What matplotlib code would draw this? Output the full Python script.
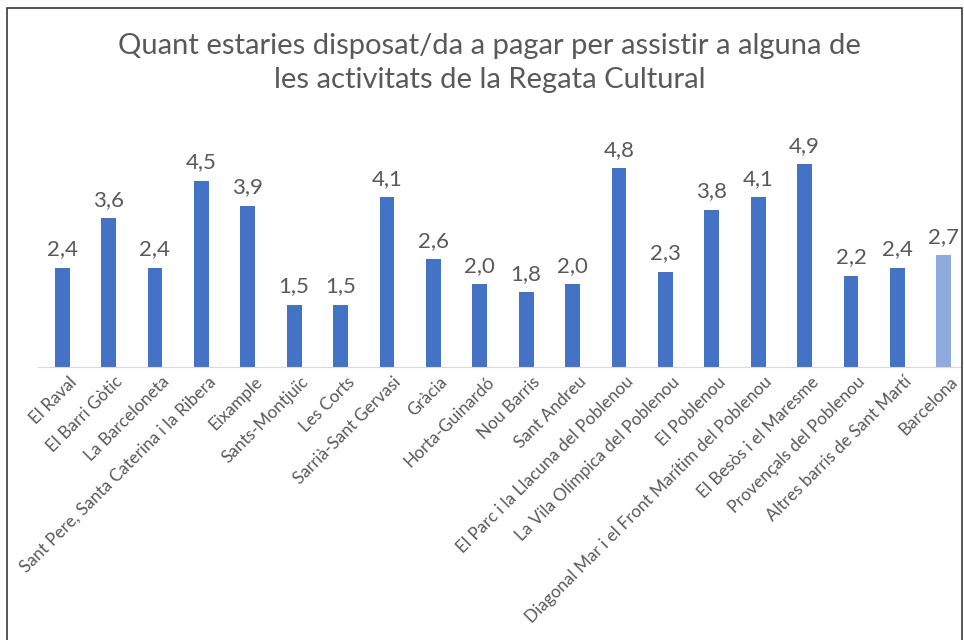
import matplotlib.pyplot as plt
from matplotlib.patches import Rectangle
import matplotlib.transforms as mtransforms

plt.rcParams['font.family'] = ['Lato', 'DejaVu Sans']

barris = ['El Raval', 'El Barri Gòtic', 'La Barceloneta',
          'Sant Pere, Santa Caterina i la Ribera', 'Eixample',
          'Sants-Montjuïc', 'Les Corts', 'Sarrià-Sant Gervasi', 'Gràcia',
          'Horta-Guinardó', 'Nou Barris', 'Sant Andreu',
          'El Parc i la Llacuna del Poblenou', 'La Vila Olímpica del Poblenou',
          'El Poblenou', 'Diagonal Mar i el Front Marítim del Poblenou',
          'El Besòs i el Maresme', 'Provençals del Poblenou',
          'Altres barris de Sant Martí', 'Barcelona']
valors = [2.4, 3.6, 2.4, 4.5, 3.9, 1.5, 1.5, 4.1, 2.6, 2.0, 1.8, 2.0,
          4.8, 2.3, 3.8, 4.1, 4.9, 2.2, 2.4, 2.7]

blau = '#4472C4'
blau_clar = '#8FAADC'
gris = '#595959'

fig = plt.figure(figsize=(9.64, 6.4), dpi=100)
ax = fig.add_axes([38 / 964, 1 - 366.7 / 640, 922 / 964, (366.7 - 139.5) / 640])

colors = [blau] * (len(valors) - 1) + [blau_clar]
pos = list(range(len(valors)))
bars = ax.bar(pos, valors, width=0.32, color=colors, zorder=2)

for b, v in zip(bars, valors):
    ax.annotate(f'{v:.1f}'.replace('.', ','),
                (b.get_x() + b.get_width() / 2, v), xytext=(0, 6),
                textcoords='offset points', ha='center', va='bottom',
                fontsize=16, color=gris)

ax.set_xlim(-0.52, 19.35)
ax.set_ylim(0, 5.5)
ax.set_yticks([])
ax.set_xticks(pos)
ax.set_xticklabels(barris, rotation=45, ha='right', rotation_mode='anchor',
                   fontsize=12.3, color=gris)
ax.tick_params(axis='x', length=0, pad=5)
shift = mtransforms.ScaledTranslation(6 / 100, 0, fig.dpi_scale_trans)
for lab in ax.get_xticklabels():
    lab.set_transform(lab.get_transform() + shift)
for s in ['top', 'right', 'left']:
    ax.spines[s].set_visible(False)
ax.spines['bottom'].set_color('#D9D9D9')

fig.text(0.508, 1 - 63 / 640, 'Quant estaries disposat/da a pagar per assistir a alguna de\n'
         'les activitats de la Regata Cultural', ha='center', va='center',
         fontsize=21, color=gris, linespacing=1.35)

# marc del grafic
fig.patches.append(Rectangle((7 / 964, -0.05), 955 / 964, 1 - 8 / 640 + 0.05,
                             transform=fig.transFigure, fill=False,
                             edgecolor='#3a3a3a', linewidth=1.2))

fig.savefig('out.png', dpi=100)
